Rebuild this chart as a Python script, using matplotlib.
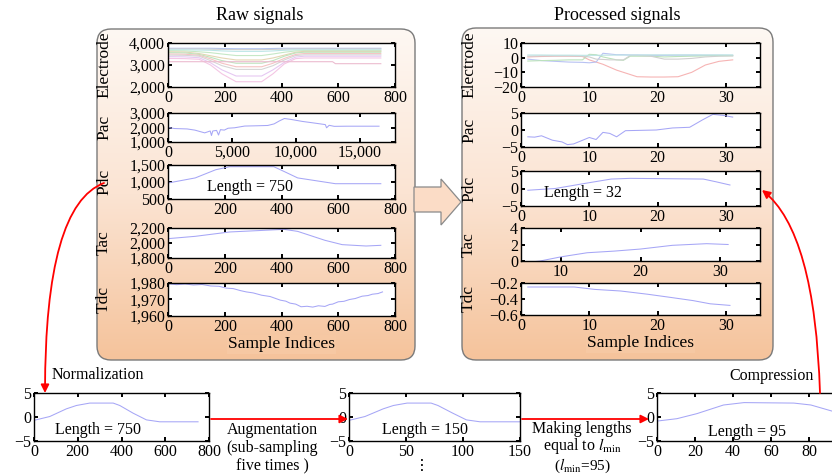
import numpy as np
import matplotlib
matplotlib.use('Agg')
import matplotlib.pyplot as plt
from matplotlib.patches import FancyBboxPatch, Polygon, FancyArrowPatch
from matplotlib.path import Path
from matplotlib.ticker import FuncFormatter, FixedLocator
from matplotlib.colors import LinearSegmentedColormap

plt.rcParams['font.family'] = ['Liberation Serif', 'DejaVu Sans']
plt.rcParams['mathtext.fontset'] = 'stix'

# ---------------- data ----------------
# Raw electrode channels
raw_elec_x = [0, 60, 110, 150, 190, 240, 330, 370, 410, 450, 480, 580, 590, 750]
raw_elec = [
    [3760, 3760, 3760, 3760, 3750, 3740, 3740, 3750, 3760, 3760, 3760, 3760, 3760, 3760],
    [3730, 3730, 3730, 3720, 3710, 3700, 3700, 3710, 3720, 3730, 3730, 3730, 3730, 3730],
    [3690, 3690, 3680, 3670, 3640, 3620, 3620, 3640, 3670, 3690, 3690, 3690, 3690, 3690],
    [3650, 3640, 3600, 3560, 3500, 3430, 3430, 3500, 3580, 3640, 3650, 3650, 3650, 3650],
    [3600, 3590, 3520, 3420, 3320, 3230, 3230, 3320, 3450, 3580, 3620, 3620, 3620, 3620],
    [3560, 3550, 3480, 3350, 3200, 3080, 3080, 3200, 3400, 3550, 3580, 3580, 3580, 3580],
    [3500, 3490, 3440, 3280, 3080, 2920, 2920, 3080, 3300, 3480, 3520, 3520, 3520, 3520],
    [3450, 3440, 3400, 3200, 2970, 2800, 2800, 2970, 3230, 3430, 3460, 3460, 3460, 3460],
    [3380, 3370, 3330, 3100, 2780, 2500, 2500, 2780, 3120, 3360, 3400, 3400, 3400, 3400],
    [3300, 3290, 3260, 3000, 2600, 2240, 2240, 2600, 3050, 3290, 3320, 3320, 3320, 3320],
    [3150, 3150, 3150, 3150, 3150, 3150, 3150, 3150, 3150, 3150, 3150, 3150, 3060, 3060],
]
raw_elec_colors = ['#b4c4f0', '#cfcfcf', '#bde6e6', '#c6e8c6', '#e4d6b4',
                   '#bfe4bf', '#f5c4c4', '#d6d6d6', '#e6c8f2', '#f4c6e4', '#ecbcd0']

raw_pac_x = [0, 500, 1500, 2100, 2870, 3300, 3400, 3500, 3800, 3950, 4100, 4400,
             4700, 5200, 6000, 7000, 7800, 8300, 8700, 9100, 9600, 10500,
             11500, 12300, 12400, 12600, 13000, 14000, 16500]
raw_pac = [2000, 1930, 1900, 1820, 1630, 1760, 1450, 1760, 1800, 1480, 1850, 1820,
           1950, 1980, 2100, 2120, 2140, 2250, 2450, 2620, 2560, 2420,
           2300, 2200, 1980, 2150, 2080, 2090, 2090]

raw_pdc_x = [0, 96, 168, 217, 373, 409, 457, 590, 750]
raw_pdc = [970, 1120, 1360, 1450, 1450, 1310, 1120, 950, 950]

raw_tac_x = [0, 96, 217, 409, 457, 553, 614, 698, 750]
raw_tac = [2058, 2089, 2147, 2182, 2155, 2036, 1978, 1960, 1969]

raw_tdc_x = [0, 30, 60, 90, 120, 150, 180, 205, 230, 255, 276, 300, 330, 360,
             396, 415, 430, 450, 469, 490, 510, 530, 553, 570, 580, 600,
             620, 640, 660, 684, 705, 720, 740, 756]
raw_tdc = [1979.6, 1979.0, 1979.4, 1978.8, 1979.1, 1978.2, 1978.0, 1976.9, 1976.6,
           1975.4, 1974.6, 1974.0, 1972.6, 1971.8, 1969.6, 1969.0, 1967.8, 1967.2,
           1965.6, 1965.9, 1965.4, 1966.2, 1965.8, 1967.0, 1967.2, 1968.6,
           1968.9, 1970.0, 1970.6, 1972.0, 1972.4, 1973.2, 1973.6, 1974.6]

# Processed channels (length 32)
proc_x = [1, 3, 5, 7, 9, 10, 11, 12, 13, 14, 15, 16, 17, 19, 21, 23, 25, 27, 29, 31]
proc_elec = [
    [0.5, 0.8, 1.0, 1.0, 0.8, -1.5, -3.0, -4.5, -6.5, -8.5, -10, -11.5, -13, -13.2, -13.2, -13, -10, -5, -2.5, -1.5],
    [-1.0, -2.0, -2.5, -3.0, -3.2, -3.5, -3.0, 3.0, 2.5, 2.0, 2.0, 1.8, 1.8, 1.6, 1.6, 1.7, 1.7, 1.6, 1.6, 1.5],
    [-2.3, -2.0, -1.8, -1.5, -1.5, 2.3, 2.0, 0.5, -0.5, -1.5, -1.8, 1.0, 1.0, 1.0, 0.5, 0.8, 1.0, 1.2, 1.3, 1.3],
    [1.0, 1.2, 1.2, 1.2, 1.0, 0.5, -1.0, -1.2, -1.5, -1.5, -1.5, 1.5, 1.5, 1.0, -1.0, -1.0, -0.5, 0.5, 1.0, 1.2],
    [1.8, 1.8, 1.7, 1.7, 1.6, 1.6, 1.6, 1.7, 1.7, 1.8, 1.8, 1.8, 1.8, 1.9, 1.9, 1.9, 1.9, 1.9, 1.9, 1.9],
]
proc_elec_colors = ['#f6b4b4', '#b8c2f2', '#bce2bc', '#d0d0d0', '#bce4e4']

proc_pac_x = [1, 2, 3, 4.6, 6, 6.8, 7.7, 10, 11, 12, 13, 14, 15.3, 19.8, 22.2, 24.7, 26.6, 28.1, 29.6, 31]
proc_pac = [-2.0, -2.1, -1.7, -3.0, -3.5, -4.3, -4.1, -2.2, -2.8, -0.7, -1.0, -2.0, -0.2, 0.0, 0.6, 0.8, 3.0, 4.6, 4.3, 3.8]

proc_pdc_x = [1, 5, 9.8, 13.2, 16, 26.7, 28.6, 30.6]
proc_pdc = [-0.5, 0.0, 1.6, 2.7, 2.9, 2.7, 1.9, 1.0]

proc_tac_x = [1, 7.4, 10, 13.3, 16.7, 20, 24, 28.3, 31]
proc_tac = [-0.7, 0.0, 0.5, 1.0, 1.2, 1.45, 1.9, 2.1, 2.0]

proc_tdc_x = [1, 7.8, 10.8, 14.6, 18.5, 21.9, 25.2, 27.7, 30.6]
proc_tdc = [-0.25, -0.25, -0.28, -0.30, -0.34, -0.38, -0.42, -0.46, -0.48]

# Bottom row: normalized, augmented and compressed Pdc
norm_x = [0, 72, 148, 194, 255, 362, 392, 453, 514, 575, 750]
norm_y = [-0.7, 0.1, 1.7, 2.4, 2.9, 2.9, 2.4, 0.8, -0.6, -1.0, -1.0]
aug_x = [0, 14, 30, 39, 51, 72, 78, 91, 103, 115, 150]
aug_y = [-0.7, 0.1, 1.7, 2.4, 2.9, 2.9, 2.4, 0.8, -0.6, -1.0, -1.0]
comp_x = [0, 10.5, 21, 35, 45.8, 72, 81, 95]
comp_y = [-0.85, -0.35, 0.7, 2.5, 3.0, 2.9, 2.5, 0.9]

raw_labels = ['Electrode', 'Pac', 'Pdc', 'Tac', 'Tdc']

# ---------------- figure ----------------
W, H = 832, 476
fig = plt.figure(figsize=(W / 100, H / 100), dpi=100)
bg = fig.add_axes([0, 0, 1, 1])
bg.axis('off')

cmap = LinearSegmentedColormap.from_list('g', ['#fef8f3', '#fbe4d3', '#f5c39b'])


def grad_box(x0, y0, x1, y1):
    patch = FancyBboxPatch((x0, y0), x1 - x0, y1 - y0,
                           boxstyle='round,pad=0,rounding_size=14',
                           fc='none', ec='#7a7a7a', lw=1.0, zorder=2)
    bg.add_patch(patch)
    grad = np.linspace(0, 1, 256)[:, None]
    im = bg.imshow(grad, extent=(x0, x1, y1, y0), cmap=cmap, aspect='auto',
                   zorder=1, interpolation='bilinear')
    im.set_clip_path(patch)


grad_box(97, 29, 415, 360)
grad_box(462, 28, 773, 360)

# hollow arrow between the boxes
arr = Polygon([(414, 187), (441, 187), (441, 179), (461, 202), (441, 225),
               (441, 212), (414, 212)], closed=True, fc='#fbdcc6', ec='#8a8a8a',
              lw=0.9, zorder=3)
bg.add_patch(arr)
bg.set_xlim(0, W)
bg.set_ylim(H, 0)

bg.text(260, 15, 'Raw signals', ha='center', va='center', fontsize=13)
bg.text(617, 15, 'Processed signals', ha='center', va='center', fontsize=13)

TS = 11.5


def mkax(x0, x1, y0, y1):
    ax = fig.add_axes([x0 / W, 1 - y1 / H, (x1 - x0) / W, (y1 - y0) / H])
    ax.tick_params(direction='in', top=True, right=True, length=3, width=1.4,
                   labelsize=TS, pad=2)
    for s in ax.spines.values():
        s.set_linewidth(1.0)
    return ax


comma = FuncFormatter(lambda v, p: f'{v:,.0f}')
LC = '#a6a6f6'
LW = 0.75

# raw panels
raw_rows = [(43, 87), (113, 142), (165, 199), (228, 258), (283, 316)]
raw_ylims = [(2000, 4000), (1000, 3000), (500, 1500), (1800, 2200), (1960, 1980)]
raw_yticks = [[2000, 3000, 4000], [1000, 2000, 3000], [500, 1000, 1500],
              [1800, 2000, 2200], [1960, 1970, 1980]]
raw_axes = []
for i, (y0, y1) in enumerate(raw_rows):
    ax = mkax(168, 395, y0, y1)
    ax.set_ylim(*raw_ylims[i])
    ax.yaxis.set_major_locator(FixedLocator(raw_yticks[i]))
    ax.yaxis.set_major_formatter(comma)
    ax.xaxis.set_major_formatter(comma)
    ax.set_ylabel(raw_labels[i], fontsize=12.5)
    ax.yaxis.set_label_coords(112, (y0 + y1) / 2, transform=bg.transData)
    raw_axes.append(ax)

for line, c in zip(raw_elec, raw_elec_colors):
    raw_axes[0].plot(raw_elec_x, line, color=c, lw=0.8)
raw_axes[1].plot(raw_pac_x, raw_pac, color=LC, lw=LW)
raw_axes[2].plot(raw_pdc_x, raw_pdc, color=LC, lw=LW)
raw_axes[3].plot(raw_tac_x, raw_tac, color=LC, lw=LW)
raw_axes[4].plot(raw_tdc_x, raw_tdc, color=LC, lw=LW)
for k, ax in enumerate(raw_axes):
    if k == 1:
        ax.set_xlim(0, 17750)
        ax.xaxis.set_major_locator(FixedLocator([0, 5000, 10000, 15000]))
    else:
        ax.set_xlim(0, 800)
        ax.xaxis.set_major_locator(FixedLocator([0, 200, 400, 600, 800]))
raw_axes[2].text(250, 187, 'Length = 750', ha='center', va='center', fontsize=TS,
                 transform=bg.transData)
raw_axes[4].set_xlabel('Sample Indices', fontsize=12.5, labelpad=1,
                       bbox=dict(fc='#f6c8a3', ec='none', pad=1))

# processed panels
proc_rows = [(43, 87), (113, 147), (171, 206), (228, 261), (283, 315)]
proc_ylims = [(-20, 10), (-5, 5), (-5, 5), (0, 4), (-0.6, -0.2)]
proc_yticks = [[-20, -10, 0, 10], [-5, 0, 5], [-5, 0, 5], [0, 2, 4], [-0.6, -0.4, -0.2]]
proc_axes = []
for i, (y0, y1) in enumerate(proc_rows):
    ax = mkax(521, 760, y0, y1)
    ax.set_ylim(*proc_ylims[i])
    ax.yaxis.set_major_locator(FixedLocator(proc_yticks[i]))
    if i == 3:
        ax.set_xlim(5, 35)
        ax.xaxis.set_major_locator(FixedLocator([10, 20, 30]))
    else:
        ax.set_xlim(0, 35)
        ax.xaxis.set_major_locator(FixedLocator([0, 10, 20, 30]))
    ax.set_ylabel(raw_labels[i], fontsize=12.5)
    ax.yaxis.set_label_coords(477, (y0 + y1) / 2, transform=bg.transData)
    proc_axes.append(ax)
proc_axes[4].yaxis.set_major_formatter(FuncFormatter(lambda v, p: f'{v:.1f}'.replace('-', '\u2212')))

for line, c in zip(proc_elec, proc_elec_colors):
    proc_axes[0].plot(proc_x, line, color=c, lw=0.8)
proc_axes[1].plot(proc_pac_x, proc_pac, color=LC, lw=LW)
proc_axes[2].plot(proc_pdc_x, proc_pdc, color=LC, lw=LW)
proc_axes[3].plot(proc_tac_x, proc_tac, color=LC, lw=LW)
proc_axes[4].plot(proc_tdc_x, proc_tdc, color=LC, lw=LW)
proc_axes[2].text(583, 193, 'Length = 32', ha='center', va='center', fontsize=TS,
                  transform=bg.transData)
proc_axes[4].set_xlabel('Sample Indices', fontsize=12.5, labelpad=1,
                        bbox=dict(fc='#f6c8a3', ec='none', pad=1))

# bottom row
b1 = mkax(34, 209, 393, 441)
b2 = mkax(349, 520, 393, 441)
b3 = mkax(657, 847, 393, 441)
for ax in (b1, b2, b3):
    ax.set_ylim(-5, 5)
    ax.yaxis.set_major_locator(FixedLocator([-5, 0, 5]))
b1.plot(norm_x, norm_y, color=LC, lw=LW)
b1.set_xlim(0, 800)
b1.xaxis.set_major_locator(FixedLocator([0, 200, 400, 600, 800]))
b2.plot(aug_x, aug_y, color=LC, lw=LW)
b2.set_xlim(0, 150)
b2.xaxis.set_major_locator(FixedLocator([0, 50, 100, 150]))
b3.plot(comp_x, comp_y, color=LC, lw=LW)
b3.set_xlim(0, 100)
b3.xaxis.set_major_locator(FixedLocator([0, 20, 40, 60, 80]))

b1.text(98, 430, 'Length = 750', ha='center', va='center', fontsize=TS, transform=bg.transData)
b2.text(425, 430, 'Length = 150', ha='center', va='center', fontsize=TS, transform=bg.transData)
b3.text(747, 432, 'Length = 95', ha='center', va='center', fontsize=TS, transform=bg.transData)

# overlay for annotations
ov = fig.add_axes([0, 0, 1, 1], zorder=10)
ov.patch.set_alpha(0)
ov.axis('off')
ov.set_xlim(0, W)
ov.set_ylim(H, 0)

ov.text(52, 375, 'Normalization', ha='left', va='center', fontsize=TS)
ov.text(772, 376, 'Compression', ha='center', va='center', fontsize=TS)
ov.text(272, 430, 'Augmentation', ha='center', va='center', fontsize=TS)
ov.text(272, 448, '(sub-sampling', ha='center', va='center', fontsize=TS)
ov.text(272, 466, 'five times )', ha='center', va='center', fontsize=TS)
ov.text(422, 466, '\u22ee', ha='center', va='center', fontsize=TS)
ov.text(582, 429, 'Making lengths', ha='center', va='center', fontsize=TS)
ov.text(582, 446, r'equal to $l_{\mathrm{min}}$', ha='center', va='center', fontsize=TS)
ov.text(582, 466, r'($l_{\mathrm{min}}$=95)', ha='center', va='center', fontsize=11)

akw = dict(arrowstyle='-|>', mutation_scale=12, color='red', lw=1.3,
           shrinkA=0, shrinkB=0)
p1 = Path([(104, 183), (45, 205), (45, 393)], [Path.MOVETO, Path.CURVE3, Path.CURVE3])
ov.add_patch(FancyArrowPatch(path=p1, **akw))
ov.add_patch(FancyArrowPatch((211, 419), (348, 419), **akw))
ov.add_patch(FancyArrowPatch((522, 419), (649, 419), **akw))
p4 = Path([(820, 393), (815, 232), (762, 190)], [Path.MOVETO, Path.CURVE3, Path.CURVE3])
ov.add_patch(FancyArrowPatch(path=p4, **akw))

fig.savefig('out.png', dpi=100)
